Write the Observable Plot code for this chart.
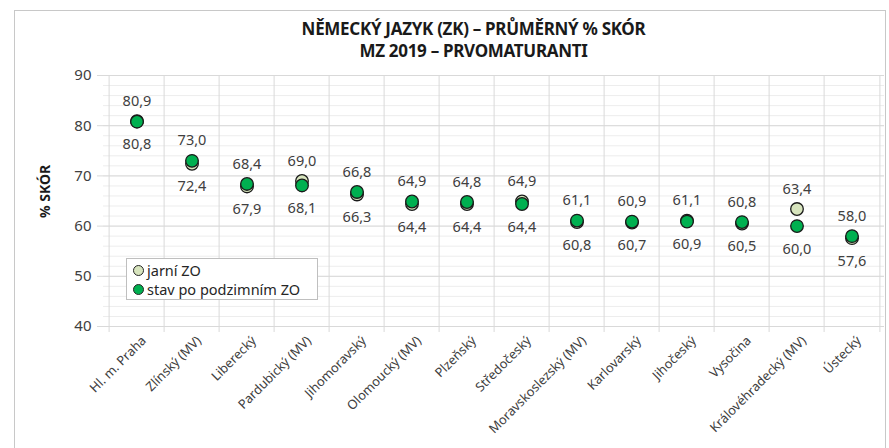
<!DOCTYPE html>
<html><head><meta charset="utf-8">
<script src="https://cdn.jsdelivr.net/npm/d3@7"></script>
<script src="https://cdn.jsdelivr.net/npm/@observablehq/plot@0.6"></script>
<style>
body{margin:0;background:#fff;}
#wrap{position:relative;width:889px;height:448px;overflow:hidden;font-family:"Noto Sans",sans-serif;}
#frame{position:absolute;left:14px;top:10px;width:872px;height:460px;border:1px solid #c8c8c8;box-sizing:border-box;pointer-events:none;}
#title{position:relative;height:60px;text-align:center;font-weight:bold;font-size:17px;color:#1a1a1a;box-sizing:border-box;letter-spacing:-0.3px;}
#title .l1{position:absolute;left:0;width:100%;top:18px;line-height:22px;padding-left:58px;box-sizing:border-box;}
#title .l2{position:absolute;left:0;width:100%;top:40px;line-height:22px;padding-left:58px;box-sizing:border-box;}
#legend{position:absolute;left:126px;top:258px;width:192px;height:42px;background:#fff;border:1px solid #bfbfbf;box-sizing:border-box;font-size:14.5px;color:#262626;}
#legend .it{position:absolute;left:6px;height:18px;line-height:18px;display:flex;align-items:center;}
#legend .sw{width:11px;height:11px;border-radius:50%;border:1.2px solid #262626;margin-right:3px;box-sizing:border-box;}
svg{display:block;}
</style>
</head><body>
<div id="wrap">
<div id="frame"></div>
<div id="title"><div class="l1">NĚMECKÝ JAZYK (ZK) – PRŮMĚRNÝ % SKÓR</div><div class="l2">MZ 2019 – PRVOMATURANTI</div></div>
<div id="chart"></div>
<div id="legend">
<div class="it" style="top:2px"><span class="sw" style="background:#d7e4bd"></span>jarní ZO</div>
<div class="it" style="top:21px"><span class="sw" style="background:#00b050"></span>stav po podzimním ZO</div>
</div>
</div>
<script>
const categories = ["Hl. m. Praha","Zlínský (MV)","Liberecký","Pardubický (MV)","Jihomoravský","Olomoucký (MV)","Plzeňský","Středočeský","Moravskoslezský (MV)","Karlovarský","Jihočeský","Vysočina","Královéhradecký (MV)","Ústecký"];
const jarni  = [80.9,72.4,67.9,69.0,66.3,64.4,64.4,64.9,60.8,60.7,61.1,60.5,63.4,57.6];
const podzim = [80.8,73.0,68.4,68.1,66.8,64.9,64.8,64.4,61.1,60.9,60.9,60.8,60.0,58.0];
const majorTicks = [40,50,60,70,80,90];
const minorTicks = d3.range(40,91,2);

const fmt = v => v.toFixed(1).replace(".", ",");
const jData = categories.map((c,i)=>({c, v:jarni[i]}));
const pData = categories.map((c,i)=>({c, v:podzim[i]}));
const upper = categories.map((c,i)=>({c, v:Math.max(jarni[i],podzim[i])}));
const lower = categories.map((c,i)=>({c, v:Math.min(jarni[i],podzim[i])}));

const W = 889, H = 388, mL = 103, mR = 5, mT = 15, mB = 122;
const bw = (W - mL - mR) / categories.length;

const chart = Plot.plot({
  width: W, height: H,
  marginLeft: mL, marginRight: mR, marginTop: mT, marginBottom: mB,
  style: {fontFamily: "Noto Sans, sans-serif", background: "white"},
  x: {type: "band", domain: categories, padding: 0, label: null},
  y: {domain: [40, 90], label: null},
  marks: [
    Plot.gridY(minorTicks, {stroke: "#ededed", strokeOpacity: 1}),
    Plot.gridY(majorTicks, {stroke: "#d9d9d9", strokeOpacity: 1}),
    Plot.ruleX(categories, {x: d => d, dx: -bw/2, stroke: "#d9d9d9", insetBottom: -6}),
    Plot.ruleX([categories[categories.length-1]], {x: d => d, dx: bw/2, stroke: "#d9d9d9", insetBottom: -6}),
    Plot.ruleY([40], {stroke: "#d9d9d9"}),
    Plot.axisY({ticks: majorTicks, tickSize: 6, tickPadding: 6, stroke: "#d9d9d9", fontSize: 15, fill: "#404040", label: null}),
    Plot.axisX({tickRotate: -45, tickSize: 0, tickPadding: 12, fontSize: 12.8, fill: "#404040", label: null, dx: 7}),
    Plot.text(["% SKÓR"], {frameAnchor: "left", rotate: -90, dx: -58, dy: 17, fontWeight: "bold", fontSize: 14, fill: "#1a1a1a"}),
    Plot.dot(jData, {x: "c", y: "v", r: 6.3, fill: "#d7e4bd", stroke: "#1a1a1a", strokeWidth: 1.3}),
    Plot.dot(pData, {x: "c", y: "v", r: 6.3, fill: "#00b050", stroke: "#1a1a1a", strokeWidth: 1.3}),
    Plot.text(upper, {x: "c", y: "v", text: d => fmt(d.v), dy: -20, fontSize: 14.5, fill: "#404040"}),
    Plot.text(lower, {x: "c", y: "v", text: d => fmt(d.v), dy: 23, fontSize: 14.5, fill: "#404040"})
  ]
});
document.getElementById("chart").appendChild(chart);
</script>
</body></html>
